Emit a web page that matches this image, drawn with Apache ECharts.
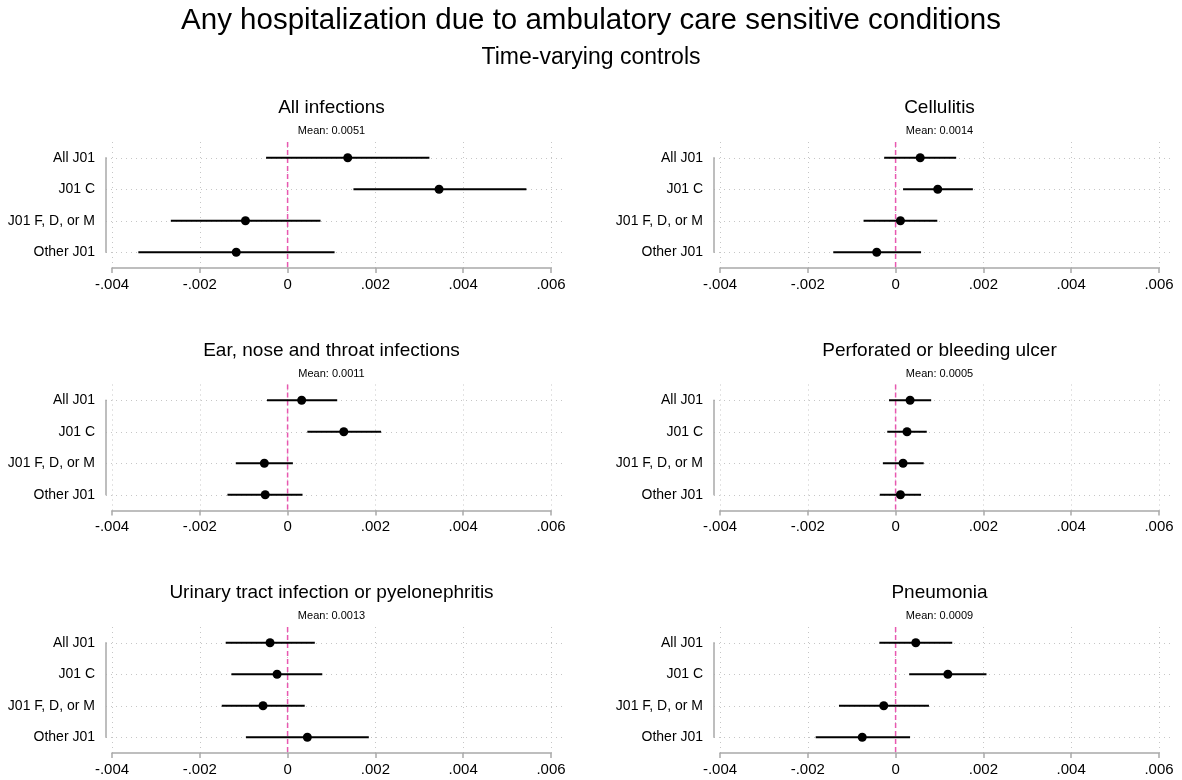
<!DOCTYPE html>
<html><head><meta charset="utf-8">
<script src="https://cdn.jsdelivr.net/npm/echarts@6.0.0/dist/echarts.min.js"></script>
<style>html,body{margin:0;padding:0;background:#fff}#c{width:1182px;height:780px}</style>
</head><body><div id="c"></div>
<script>
const mainTitle = 'Any hospitalization due to ambulatory care sensitive conditions';
const subTitle = 'Time-varying controls';
const categories = ['All J01', 'J01 C', 'J01 F, D, or M', 'Other J01'];
const panelTitles = ['All infections', 'Cellulitis', 'Ear, nose and throat infections',
  'Perforated or bleeding ulcer', 'Urinary tract infection or pyelonephritis', 'Pneumonia'];
const panelMeans = ['Mean: 0.0051', 'Mean: 0.0014', 'Mean: 0.0011', 'Mean: 0.0005', 'Mean: 0.0013', 'Mean: 0.0009'];
const referenceLine = [0];

const estInfections = [0.00137, 0.00345, -0.00096, -0.00117];
const loInfections  = [-0.00049, 0.00150, -0.00266, -0.00340];
const hiInfections  = [0.00323, 0.00544, 0.00075, 0.00107];

const estCellulitis = [0.00056, 0.00096, 0.00011, -0.00043];
const loCellulitis  = [-0.00026, 0.00017, -0.00073, -0.00142];
const hiCellulitis  = [0.00138, 0.00176, 0.00095, 0.00058];

const estENT = [0.00032, 0.00128, -0.00053, -0.00051];
const loENT  = [-0.00047, 0.00045, -0.00118, -0.00137];
const hiENT  = [0.00113, 0.00213, 0.00012, 0.00034];

const estUlcer = [0.00033, 0.00026, 0.00017, 0.00011];
const loUlcer  = [-0.00015, -0.00019, -0.00029, -0.00036];
const hiUlcer  = [0.00081, 0.00071, 0.00064, 0.00058];

const estUTI = [-0.00040, -0.00024, -0.00056, 0.00045];
const loUTI  = [-0.00141, -0.00128, -0.00150, -0.00095];
const hiUTI  = [0.00062, 0.00079, 0.00039, 0.00185];

const estPneumonia = [0.00046, 0.00119, -0.00027, -0.00076];
const loPneumonia  = [-0.00037, 0.00031, -0.00129, -0.00182];
const hiPneumonia  = [0.00129, 0.00207, 0.00076, 0.00033];

const xMin = -0.004, xMax = 0.006, xStep = 0.002;

const panels = [
  [estInfections, loInfections, hiInfections],
  [estCellulitis, loCellulitis, hiCellulitis],
  [estENT, loENT, hiENT],
  [estUlcer, loUlcer, hiUlcer],
  [estUTI, loUTI, hiUTI],
  [estPneumonia, loPneumonia, hiPneumonia]
];

const FONT = "'Liberation Sans', Arial, Helvetica, sans-serif";
const colLeft = [112, 720];
const rowTop = [142, 384.5, 627];
const plotW = 439, plotH = 126;
const axisGrey = '#a9a9a9', gridGrey = '#c6c6c6', zeroPink = '#e858b0';

const grids = [], xAxes = [], yAxes = [], series = [], graphics = [];

graphics.push({type:'text', x:591, y:21, style:{text:mainTitle, fontSize:29.5, fontFamily:FONT, fill:'#000', align:'center', verticalAlign:'middle'}});
graphics.push({type:'text', x:591, y:58, style:{text:subTitle, fontSize:23, fontFamily:FONT, fill:'#000', align:'center', verticalAlign:'middle'}});

function fmt(v){
  if (Math.abs(v) < 1e-12) return '0';
  return v.toFixed(3).replace('0.', '.');
}

panels.forEach((p, i) => {
  const col = i % 2, row = Math.floor(i / 2);
  const left = colLeft[col], top = rowTop[row];
  const n = categories.length;
  const step = plotH / n;
  grids.push({left: left, top: top, width: plotW, height: plotH});
  grids.push({left: left - 6, top: top + step / 2, width: plotW + 18, height: step * (n - 1)});
  const gi = 2 * i;
  xAxes.push({
    type:'value', gridIndex: gi, min: xMin, max: xMax, interval: xStep,
    axisLine:{show:true, onZero:false, lineStyle:{color:axisGrey, width:1.5}},
    axisTick:{show:true, length:5, lineStyle:{color:axisGrey, width:1.5}},
    axisLabel:{fontSize:15, fontFamily:FONT, color:'#000', margin:9, formatter: fmt},
    splitLine:{show:true, lineStyle:{color:gridGrey, type:[1,4], width:1}}
  });
  xAxes.push({type:'value', gridIndex: gi + 1, min:0, max:1, show:false});
  yAxes.push({type:'value', gridIndex: gi, min:0.5, max:n + 0.5, inverse:true, show:false,
    axisLine:{show:false}, splitLine:{show:false}});
  yAxes.push({
    type:'category', gridIndex: gi + 1, data: categories, inverse:true, boundaryGap:false, offset:6,
    axisLine:{show:true, lineStyle:{color:axisGrey, width:1.5}},
    axisTick:{show:false},
    axisLabel:{interval:0, margin:5, fontSize:14, fontFamily:FONT, color:'#000'},
    splitLine:{show:true, interval:0, lineStyle:{color:gridGrey, type:[1,4], width:1}}
  });
  const [est, lo, hi] = p;
  series.push({
    type:'custom', xAxisIndex: gi, yAxisIndex: gi, z: 2, silent:true,
    data: referenceLine.map(v => [v]),
    encode:{x:0},
    renderItem: function(params, api){
      const a = api.coord([api.value(0), 0.5]);
      const b = api.coord([api.value(0), n + 0.5]);
      return {type:'line', shape:{x1:a[0], y1:a[1], x2:b[0], y2:b[1]},
        style:{stroke:zeroPink, lineWidth:1.5, lineDash:[5,3]}};
    }
  });
  series.push({
    type:'custom', xAxisIndex: gi, yAxisIndex: gi, z: 3,
    data: categories.map((c, j) => [lo[j], hi[j], j + 1]),
    encode:{x:[0,1], y:2},
    renderItem: function(params, api){
      const y = api.value(2);
      const a = api.coord([api.value(0), y]);
      const b = api.coord([api.value(1), y]);
      return {type:'line', shape:{x1:a[0], y1:a[1], x2:b[0], y2:b[1]}, style:{stroke:'#000', lineWidth:2}};
    }
  });
  series.push({
    type:'scatter', xAxisIndex: gi, yAxisIndex: gi, z: 4,
    symbol:'circle', symbolSize:9, itemStyle:{color:'#000', opacity:1},
    data: est.map((v, j) => [v, j + 1])
  });
  const cx = left + plotW / 2;
  graphics.push({type:'text', x:cx, y:top - 34, style:{text:panelTitles[i], fontSize:19, fontFamily:FONT, fill:'#000', align:'center', verticalAlign:'middle'}});
  graphics.push({type:'text', x:cx, y:top - 11, style:{text:panelMeans[i], fontSize:11, fontFamily:FONT, fill:'#000', align:'center', verticalAlign:'middle'}});
});

const chart = echarts.init(document.getElementById('c'), null, {renderer:'canvas'});
chart.setOption({
  animation:false,
  backgroundColor:'#fff',
  grid: grids, xAxis: xAxes, yAxis: yAxes, series: series,
  graphic: graphics
});
</script>
</body></html>
